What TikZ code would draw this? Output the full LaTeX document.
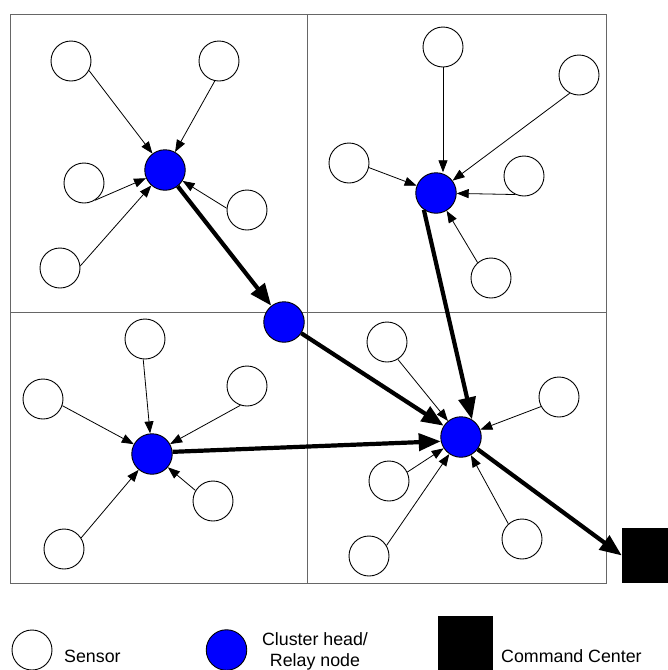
\documentclass[tikz,border=0pt]{standalone}
\usepackage{fontspec}
\setmainfont{Liberation Sans}
\usetikzlibrary{arrows.meta}
\definecolor{gridgray}{HTML}{666666}

\begin{document}
\begin{tikzpicture}[x=1pt,y=-1pt,
  sensor/.style={circle,draw=black,fill=white,line width=0.9pt,minimum size=40pt,inner sep=0pt},
  head/.style={circle,draw=black,fill=blue,line width=0.9pt,minimum size=40.5pt,inner sep=0pt},
  cmdbox/.style={rectangle,fill=black,minimum size=55pt,inner sep=0pt},
  feed/.style={-{Triangle[length=12pt,width=9pt]},line width=0.8pt},
  trunk/.style={-{Triangle[length=22pt,width=17pt]},line width=4.2pt},
  gridline/.style={draw=gridgray,line width=1pt},
  legend/.style={font=\fontsize{17.8}{21}\selectfont,inner sep=0pt}
]
\useasboundingbox (0,0) rectangle (668,670);

% field split into four clusters
\draw[gridline] (10,14) rectangle (606,583);
\draw[gridline] (307,14) -- (307,583);
\draw[gridline] (10,312) -- (606,312);

% cluster heads, relay and command center
\node[head] (ch1) at (165,170) {};
\node[head] (ch2) at (436,193) {};
\node[head] (ch3) at (152,454) {};
\node[head] (ch4) at (461,437) {};
\node[head] (relay) at (284,322) {};
\node[cmdbox] (cc) at (649.5,555.5) {};

% sensors, upper left
\node[sensor] (a) at (71,61) {};
\node[sensor] (b) at (219,61) {};
\node[sensor] (c) at (84,183) {};
\node[sensor] (d) at (247,210) {};
\node[sensor] (e) at (60,268) {};
% sensors, upper right
\node[sensor] (f) at (443,47) {};
\node[sensor] (g) at (579,75) {};
\node[sensor] (h) at (349,163) {};
\node[sensor] (i) at (524,176) {};
\node[sensor] (j) at (491,278) {};
% sensors, lower left
\node[sensor] (k) at (145,339) {};
\node[sensor] (l) at (43,399) {};
\node[sensor] (m) at (247,386) {};
\node[sensor] (n) at (213,501) {};
\node[sensor] (o) at (64,549) {};
% sensors, lower right
\node[sensor] (p) at (387,342) {};
\node[sensor] (q) at (559,397) {};
\node[sensor] (r) at (389,481) {};
\node[sensor] (s) at (522,539) {};
\node[sensor] (t) at (369,556) {};

% sensor reports to cluster heads
\draw[feed] (a.-28) -- (ch1);
\draw[feed] (b.258) -- (ch1);
\draw[feed] (c.-58) -- (ch1);
\draw[feed] (d.175) -- (ch1);
\draw[feed] (e.6) -- (ch1);

\draw[feed] (f.south) -- (f.south |- ch2.north);
\draw[feed] (g.243) -- (ch2);
\draw[feed] (h.-13) -- (ch2);
\draw[feed] (i.245) -- (ch2);
\draw[feed] (j.131) -- (ch2);

\draw[feed] (k.265) -- (ch3);
\draw[feed] (l.-19) -- (ch3);
\draw[feed] (m.251) -- (ch3);
\draw[feed] (n.149) -- (ch3);
\draw[feed] (o.33) -- (ch3);

\draw[feed] (p.-58) -- (ch4);
\draw[feed] (q.208) -- (ch4);
\draw[feed] (r.26) -- (ch4);
\draw[feed] (s.132) -- (ch4);
\draw[feed] (t.31) -- (ch4);

% backbone toward the command center
\draw[trunk] (ch1) -- (relay);
\draw[trunk] (relay) -- (ch4);
\draw[trunk] (ch2.234) -- (ch4.58);
\draw[trunk] (ch3.6) -- (ch4.192);
\draw[trunk] (ch4) -- (cc.west);

% legend
\node[sensor] (legsensor) at (32,650) {};
\node[legend,anchor=base west] (legsensortext) at (64,662) {Sensor};
\node[head] (leghead) at (226.5,650) {};
\node[legend,align=center] (legheadtext) at (315,651.5) {Cluster head/\\Relay node};
\node[cmdbox] (legcc) at (465.5,643.5) {};
\node[legend,anchor=base west] (legcctext) at (501,662) {Command Center};
\end{tikzpicture}
\end{document}
